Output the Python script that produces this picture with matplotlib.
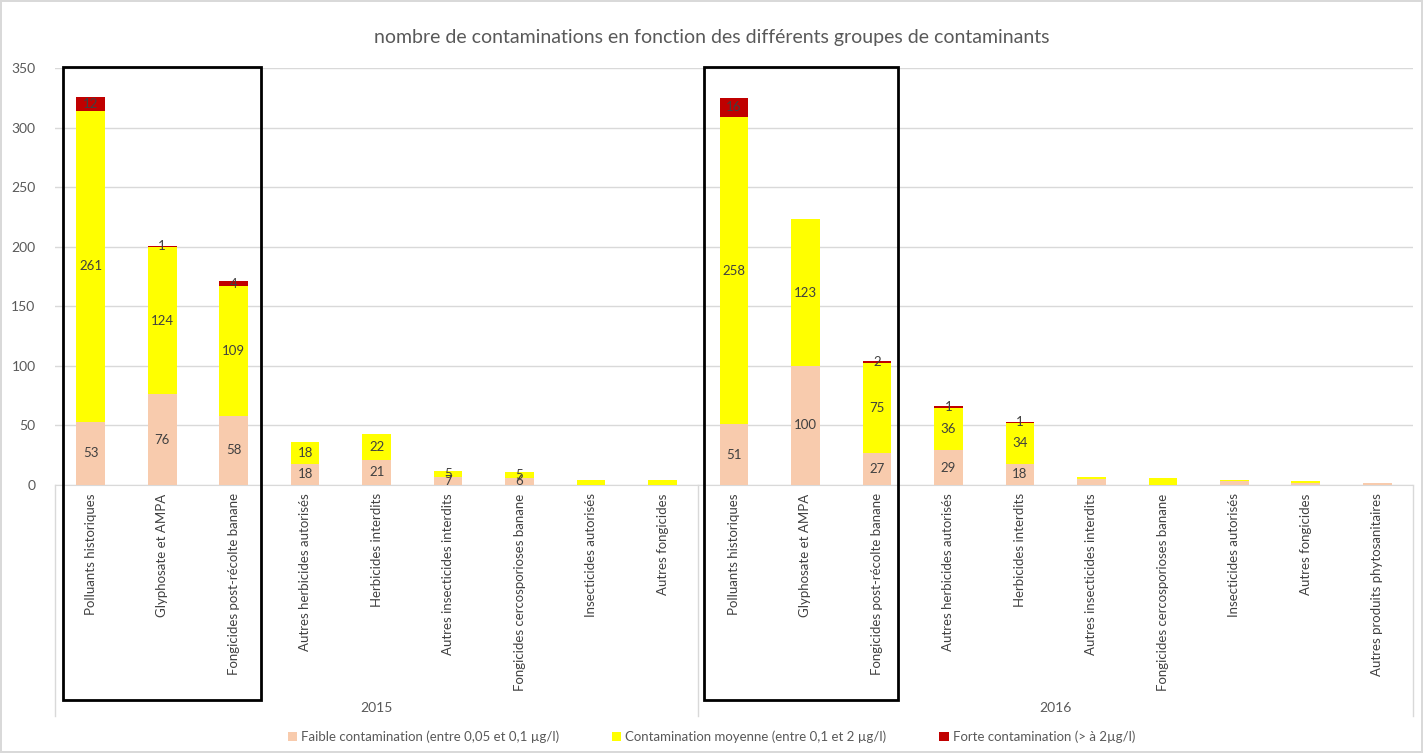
import matplotlib.pyplot as plt
import numpy as np

plt.rcParams['font.family'] = ['Lato', 'DejaVu Sans']

cats_2015 = ['Polluants historiques', 'Glyphosate et AMPA', 'Fongicides post-récolte banane',
             'Autres herbicides autorisés', 'Herbicides interdits', 'Autres insecticides interdits',
             'Fongicides cercosporioses banane', 'Insecticides autorisés', 'Autres fongicides']
cats_2016 = ['Polluants historiques', 'Glyphosate et AMPA', 'Fongicides post-récolte banane',
             'Autres herbicides autorisés', 'Herbicides interdits', 'Autres insecticides interdits',
             'Fongicides cercosporioses banane', 'Insecticides autorisés', 'Autres fongicides',
             'Autres produits phytosanitaires']

faible_2015 = [53, 76, 58, 18, 21, 7, 6, 0, 0]
moyenne_2015 = [261, 124, 109, 18, 22, 5, 5, 4, 4]
forte_2015 = [12, 1, 4, 0, 0, 0, 0, 0, 0]

faible_2016 = [51, 100, 27, 29, 18, 5, 0, 3, 2, 2]
moyenne_2016 = [258, 123, 75, 36, 34, 2, 6, 1, 1, 0]
forte_2016 = [16, 0, 2, 1, 1, 0, 0, 0, 0, 0]

# only the first categories of each year carry data labels in the original
labelled_2015 = 7
labelled_2016 = 5

years = ['2015', '2016']
legend_labels = ['Faible contamination (entre 0,05 et 0,1 µg/l)',
                 'Contamination moyenne (entre 0,1 et 2 µg/l)',
                 'Forte contamination (> à 2µg/l)']
colors = ['#f8cbad', '#ffff00', '#c00000']

cats = cats_2015 + cats_2016
faible = np.array(faible_2015 + faible_2016)
moyenne = np.array(moyenne_2015 + moyenne_2016)
forte = np.array(forte_2015 + forte_2016)
show = np.array([i < labelled_2015 for i in range(len(cats_2015))] +
                [i < labelled_2016 for i in range(len(cats_2016))])
x = np.arange(len(cats))

fig = plt.figure(figsize=(14.23, 7.53), dpi=100)
fig.patch.set_edgecolor('#d9d9d9')
fig.patch.set_linewidth(1.5)
ax = fig.add_axes([55 / 1423, 1 - 485 / 753, 1358 / 1423, 417 / 753])

w = 0.4
b1 = ax.bar(x, faible, w, color=colors[0], label=legend_labels[0], zorder=3)
b2 = ax.bar(x, moyenne, w, bottom=faible, color=colors[1], label=legend_labels[1], zorder=3)
b3 = ax.bar(x, forte, w, bottom=faible + moyenne, color=colors[2], label=legend_labels[2], zorder=3)

lab_col = '#404040'
for bars, vals in [(b1, faible), (b2, moyenne), (b3, forte)]:
    for rect, v, s in zip(bars, vals, show):
        if v > 0 and s:
            ax.text(rect.get_x() + rect.get_width() / 2, rect.get_y() + rect.get_height() / 2,
                    str(v), ha='center', va='center', fontsize=9.5, color=lab_col, zorder=4)

ax.set_ylim(0, 350)
ax.set_xlim(-0.5, len(cats) - 0.5)
ax.set_yticks(np.arange(0, 351, 50))
ax.yaxis.grid(True, color='#d9d9d9', linewidth=1, zorder=0)
ax.tick_params(axis='y', length=0, labelcolor='#595959', labelsize=10, pad=14)
ax.set_xticks(x)
ax.set_xticklabels(cats, rotation=90, va='top', fontsize=9.5, color='#404040')
ax.tick_params(axis='x', length=0, pad=6)
for side in ['top', 'right', 'left']:
    ax.spines[side].set_visible(False)
ax.spines['bottom'].set_color('#d9d9d9')

# group separators and year labels
trans = ax.get_xaxis_transform()
n15 = len(cats_2015)
for xs in [-0.5, n15 - 0.5, len(cats) - 0.5]:
    ax.plot([xs, xs], [0, -0.555], transform=trans, color='#d9d9d9', lw=1, clip_on=False)
ax.text((n15 - 1) / 2, -0.535, years[0], transform=trans, ha='center', va='center',
        fontsize=10, color='#595959')
ax.text(n15 + (len(cats_2016) - 1) / 2, -0.535, years[1], transform=trans, ha='center',
        va='center', fontsize=10, color='#595959')

# highlight boxes
for x0, x1 in [(-0.388, 2.38), (8.577, 11.30)]:
    ax.add_patch(plt.Rectangle((x0, -0.516), x1 - x0, 1.518, transform=trans, fill=False,
                               edgecolor='black', lw=2, clip_on=False, zorder=5))

fig.text(0.5, 1 - 38 / 753, 'nombre de contaminations en fonction des différents groupes de contaminants',
         ha='center', va='center', fontsize=14, color='#595959')

fig.legend(handles=[b1, b2, b3], loc='center', bbox_to_anchor=(0.5, 1 - 737 / 753), ncol=3,
           frameon=False, fontsize=9.5, handlelength=0.7, handleheight=0.7, handletextpad=0.3,
           columnspacing=4, labelcolor='#595959')

fig.savefig('out.png', dpi=100)
